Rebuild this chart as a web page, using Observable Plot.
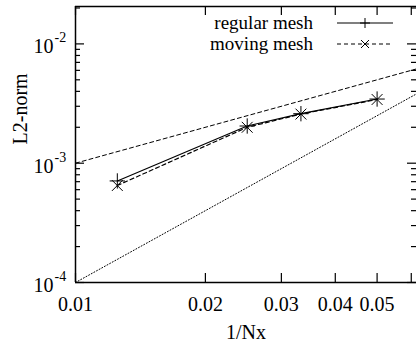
<!DOCTYPE html>
<html><head><meta charset="utf-8">
<script src="https://cdn.jsdelivr.net/npm/d3@7"></script>
<script src="https://cdn.jsdelivr.net/npm/@observablehq/plot@0.6"></script>
<style>body{margin:0;background:#fff;overflow:hidden}</style>
</head><body><div id="chart"></div>
<script>
// Data
const nx = [0.0125, 0.025, 0.0333, 0.05];
const regularMesh = [7.1e-4, 2.05e-3, 2.6e-3, 3.45e-3];
const movingMesh = [6.5e-4, 2.0e-3, 2.58e-3, 3.42e-3];
const refX = [0.01, 0.0617];
const refSlope1 = [1e-3, 6.17e-3];
const refSlope2 = [1e-4, 3.81e-3];
const xTicks = [0.01, 0.02, 0.03, 0.04, 0.05, 0.06];
const xTickLabels = ["0.01", "0.02", "0.03", "0.04", "0.05", ""];
const yMajor = [1e-4, 1e-3, 1e-2];
const yExponents = ["-4", "-3", "-2"];
const yMinor = [2e-4, 3e-4, 4e-4, 5e-4, 6e-4, 7e-4, 8e-4, 9e-4,
                2e-3, 3e-3, 4e-3, 5e-3, 6e-3, 7e-3, 8e-3, 9e-3, 2e-2];
const seriesNames = ["regular mesh", "moving mesh"];

const xDomain = [0.01, 0.0617];
const yDomain = [1e-4, 0.02058];

const W = 416, H = 345, mL = 75, mR = 0, mT = 6, mB = 63;
const FW = W - mL - mR, FH = H - mT - mB;
const FONT = "Liberation Serif";
const FS = 20;

const reg = nx.map((x, i) => ({x, y: regularMesh[i]}));
const mov = nx.map((x, i) => ({x, y: movingMesh[i]}));
const r1 = refX.map((x, i) => ({x, y: refSlope1[i]}));
const r2 = refX.map((x, i) => ({x, y: refSlope2[i]}));

const chart = Plot.plot({
  width: W, height: H,
  marginLeft: mL, marginRight: mR, marginTop: mT, marginBottom: mB,
  style: {fontFamily: FONT, fontSize: FS + "px", background: "white", color: "black"},
  x: {type: "log", domain: xDomain, axis: null},
  y: {type: "log", domain: yDomain, axis: null},
  marks: [
    Plot.line(r1, {x: "x", y: "y", stroke: "black", strokeWidth: 1, strokeDasharray: "4,3"}),
    Plot.line(r2, {x: "x", y: "y", stroke: "black", strokeWidth: 1, strokeDasharray: "1,2"}),
    Plot.line(reg, {x: "x", y: "y", stroke: "black", strokeWidth: 1.2}),
    Plot.line(mov, {x: "x", y: "y", stroke: "black", strokeWidth: 1.2, strokeDasharray: "4,3"}),
    Plot.dot(reg, {x: "x", y: "y", symbol: "plus", r: 5, stroke: "black", strokeWidth: 1}),
    Plot.dot(mov, {x: "x", y: "y", symbol: "times", r: 5, stroke: "black", strokeWidth: 1}),
    // inward ticks
    Plot.tickX(xTicks, {x: d => d, insetTop: FH - 9, stroke: "black", strokeWidth: 1.2}),
    Plot.tickX(xTicks, {x: d => d, insetBottom: FH - 9, stroke: "black", strokeWidth: 1.2}),
    Plot.tickY(yMajor, {y: d => d, insetRight: FW - 9, stroke: "black", strokeWidth: 1.2}),
    Plot.tickY(yMajor, {y: d => d, insetLeft: FW - 9, stroke: "black", strokeWidth: 1.2}),
    Plot.tickY(yMinor, {y: d => d, insetRight: FW - 5, stroke: "black", strokeWidth: 1.2}),
    Plot.tickY(yMinor, {y: d => d, insetLeft: FW - 5, stroke: "black", strokeWidth: 1.2}),
    // frame
    Plot.ruleX([xDomain[0]], {stroke: "black", strokeWidth: 1.5}),
    Plot.ruleY([yDomain[0]], {stroke: "black", strokeWidth: 1.5}),
    Plot.ruleY([yDomain[1]], {stroke: "black", strokeWidth: 1.5}),
    // x tick labels
    Plot.text(xTicks, {x: d => d, frameAnchor: "bottom", text: d => xTickLabels[xTicks.indexOf(d)],
      lineAnchor: "top", dy: 14, fill: "black"}),
    // y tick labels
    Plot.text(yMajor, {y: d => d, frameAnchor: "left", text: () => "10", textAnchor: "end",
      lineAnchor: "middle", dx: -22, dy: 3, fill: "black"}),
    Plot.text(yMajor, {y: d => d, frameAnchor: "left", text: d => yExponents[yMajor.indexOf(d)],
      textAnchor: "start", lineAnchor: "middle", dx: -21, dy: -6, fontSize: 14, fill: "black"}),
    // axis labels
    Plot.text(["1/Nx"], {frameAnchor: "bottom", text: d => d, lineAnchor: "middle", dy: 50, fill: "black"}),
    Plot.text(["L2-norm"], {frameAnchor: "left", text: d => d, rotate: -90, lineAnchor: "middle", dx: -55, fill: "black"})
  ]
});
document.getElementById("chart").appendChild(chart);

// Legend
const svg = d3.select(chart);
const lg = svg.append("g").attr("font-family", FONT).attr("font-size", 19).attr("fill", "black");
const rows = [
  {name: seriesNames[0], y: 23, dash: null, sym: "plus"},
  {name: seriesNames[1], y: 44, dash: "4,3", sym: "times"}
];
rows.forEach(r => {
  lg.append("text").attr("x", 313).attr("y", r.y).attr("dy", "0.32em").attr("text-anchor", "end").text(r.name);
  lg.append("line").attr("x1", 337).attr("x2", 393).attr("y1", r.y).attr("y2", r.y)
    .attr("stroke", "black").attr("stroke-width", 1.2).attr("stroke-dasharray", r.dash);
  const s = 5;
  if (r.sym === "plus") {
    lg.append("path").attr("d", `M${365 - s},${r.y}H${365 + s}M365,${r.y - s}V${r.y + s}`)
      .attr("stroke", "black").attr("fill", "none");
  } else {
    const t = 4;
    lg.append("path").attr("d", `M${365 - t},${r.y - t}L${365 + t},${r.y + t}M${365 - t},${r.y + t}L${365 + t},${r.y - t}`)
      .attr("stroke", "black").attr("fill", "none");
  }
});
</script>
</body></html>
